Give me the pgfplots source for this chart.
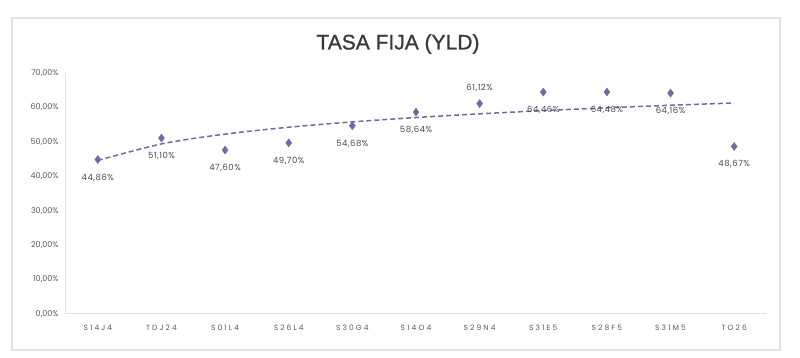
\documentclass[border=0pt]{standalone}
\usepackage{pgfplots}
\pgfplotsset{compat=1.18}
\usepackage{fontspec}
\setmainfont{Poppins}
\newfontfamily\titlefont[FakeBold=0.9]{Liberation Sans}
\newfontfamily\tickfont[LetterSpace=28]{Poppins}
\newfontfamily\lblfont[LetterSpace=6]{Poppins}
\definecolor{pur}{HTML}{7B64A3}
\definecolor{txt}{HTML}{4A4A4A}
\definecolor{tck}{HTML}{5A5A5A}
\definecolor{axg}{HTML}{E2E2E2}
\begin{document}
\begin{tikzpicture}[x=1pt,y=1pt]
\useasboundingbox (-66,-44) rectangle (734,314);
\draw[axg, line width=1.2pt] (-54,-36) rectangle (714,296);
\node[font=\titlefont\fontsize{21}{24}\selectfont, text=black!78] at (332,270) {TASA FIJA (YLD)};
\begin{axis}[
  at={(0,0)}, anchor=south west,
  scale only axis, width=700pt, height=241pt,
  xmin=0, xmax=11, ymin=0, ymax=70,
  axis lines=left, axis line style={axg, line width=1pt, -},
  xtick={0.5,1.5,2.5,3.5,4.5,5.5,6.5,7.5,8.5,9.5,10.5},
  xticklabels={S14J4,TDJ24,S01L4,S26L4,S30G4,S14O4,S29N4,S31E5,S28F5,S31M5,TO26},
  ytick={0,10,20,30,40,50,60,70},
  yticklabels={{0,00\%},{10,00\%},{20,00\%},{30,00\%},{40,00\%},{50,00\%},{60,00\%},{70,00\%}},
  major tick length=0pt,
  xticklabel style={font=\tickfont\fontsize{7.5}{8}\selectfont, text=tck, anchor=center, yshift=-14pt},
  yticklabel style={font=\fontsize{8}{9}\selectfont, text=tck, anchor=east, xshift=-4pt},
  clip=false,
]
\addplot[pur, dashed, dash pattern=on 5pt off 3pt, line width=1.5pt, smooth, no marks] coordinates {
(0.5,44.6) (1.5,49.4) (2.5,52.25) (3.5,54.25) (4.5,55.8) (5.5,57.07) (6.5,58.14) (7.5,59.07) (8.5,59.89) (9.5,60.63) (10.5,61.29)};
\addplot[only marks, mark=diamond*, mark size=4pt, pur, mark options={draw=pur, fill=pur},
  nodes near coords, point meta=explicit symbolic,
  nodes near coords style={font=\lblfont\fontsize{8.5}{9}\selectfont, text=txt, anchor=center, yshift=-18pt}] coordinates {
(0.5,44.86) [44,86\%]
(1.5,51.10) [51,10\%]
(2.5,47.60) [47,60\%]
(3.5,49.70) [49,70\%]
(4.5,54.68) [54,68\%]
(5.5,58.64) [58,64\%]
(7.5,64.46) [64,46\%]
(8.5,64.48) [64,48\%]
(9.5,64.16) [64,16\%]
(10.5,48.67) [48,67\%]
};
\addplot[only marks, mark=diamond*, mark size=4pt, pur, mark options={draw=pur, fill=pur},
  nodes near coords, point meta=explicit symbolic,
  nodes near coords style={font=\lblfont\fontsize{8.5}{9}\selectfont, text=txt, anchor=center, yshift=16pt}] coordinates {
(6.5,61.12) [61,12\%]
};
\end{axis}
\end{tikzpicture}
\end{document}
